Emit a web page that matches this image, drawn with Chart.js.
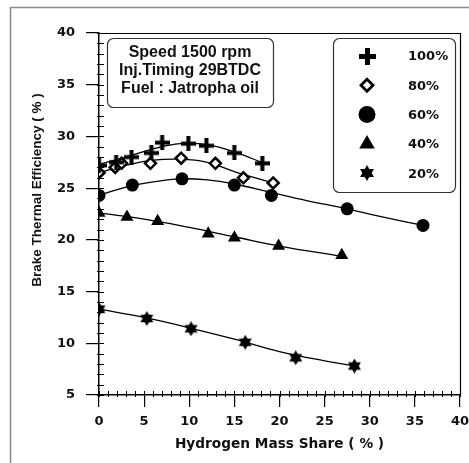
<!DOCTYPE html>
<html>
<head>
<meta charset="utf-8">
<script src="https://cdn.jsdelivr.net/npm/chart.js@4/dist/chart.umd.min.js"></script>
<style>
  body { margin: 0; background: #fff; }
  canvas { display: block; }
</style>
</head>
<body>
<canvas id="myChart" width="469" height="463"></canvas>
<script>
/*////////////////////////////// DATA //////////////////////////////*/
const seriesLabels = ['100%', '80%', '60%', '40%', '20%'];

// measured points (hydrogen share %, brake thermal efficiency %)
const h2_100 = [0, 1.9, 3.6, 5.8, 7.0, 9.9, 11.9, 15.0, 18.1];
const bte_100 = [27.2, 27.5, 28.0, 28.4, 29.4, 29.3, 29.1, 28.4, 27.4];
const h2_80 = [0, 1.8, 2.5, 5.7, 9.1, 12.9, 16.0, 19.3];
const bte_80 = [26.5, 27.0, 27.4, 27.4, 27.9, 27.4, 26.0, 25.5];
const h2_60 = [0, 3.7, 9.2, 15.0, 19.1, 27.5, 35.9];
const bte_60 = [24.3, 25.3, 25.9, 25.3, 24.3, 23.0, 21.4];
const h2_40 = [0, 3.1, 6.5, 12.1, 15.0, 19.9, 26.9];
const bte_40 = [22.6, 22.2, 21.8, 20.6, 20.2, 19.4, 18.5];
const h2_20 = [0, 5.3, 10.2, 16.2, 21.8, 28.3];
const bte_20 = [13.3, 12.4, 11.4, 10.1, 8.6, 7.8];

// fitted curves
const fitX_100 = [0, 3, 6, 9, 12, 15, 18.3];
const fitY_100 = [27.3, 28.0, 28.8, 29.3, 29.2, 28.5, 27.4];
const fitX_80 = [0, 3, 6, 9, 12, 15, 19.3];
const fitY_80 = [26.5, 27.2, 27.7, 27.8, 27.5, 26.6, 25.5];
const fitX_60 = [0, 3, 6, 9, 12, 15, 19, 23, 27.5, 31, 35.9];
const fitY_60 = [24.3, 25.1, 25.6, 25.9, 25.8, 25.4, 24.6, 23.8, 23.0, 22.3, 21.4];
const fitX_40 = [0, 5, 10, 15, 20, 26.9];
const fitY_40 = [22.6, 22.0, 21.2, 20.3, 19.4, 18.4];
const fitX_20 = [0, 5, 10, 15, 20, 25, 28.3];
const fitY_20 = [13.3, 12.5, 11.5, 10.4, 9.2, 8.3, 7.8];

const xMin = 0, xMax = 40, xStep = 5;
const yMin = 5, yMax = 40, yStep = 5;

const xTitle = 'Hydrogen Mass Share ( % )';
const yTitle = 'Brake Thermal Efficiency ( % )';
const noteLines = ['Speed 1500 rpm', 'Inj.Timing 29BTDC', 'Fuel : Jatropha oil'];

/*////////////////////////////// MARKERS //////////////////////////////*/
function plusImage(size, thick) {
    const c = document.createElement('canvas');
    c.width = size; c.height = size;
    const g = c.getContext('2d');
    g.fillStyle = '#000';
    const m = (size - thick) / 2;
    g.fillRect(m, 0, thick, size);
    g.fillRect(0, m, size, thick);
    return c;
}

function starImage(size) {
    const c = document.createElement('canvas');
    c.width = size; c.height = size;
    const g = c.getContext('2d');
    g.fillStyle = '#000';
    const r = size / 2;
    [-90, 90].forEach(start => {
        g.beginPath();
        for (let k = 0; k < 3; k++) {
            const a = (start + k * 120) * Math.PI / 180;
            const px = r + r * Math.cos(a), py = r + r * Math.sin(a);
            if (k === 0) g.moveTo(px, py); else g.lineTo(px, py);
        }
        g.closePath();
        g.fill();
    });
    return c;
}

const plusPt = plusImage(15, 4);
const starPt = starImage(15);
// legend uses slightly bigger symbols
const legendMarks = [plusImage(17, 5), 'rectRot', 'circle', 'triangle', starImage(16)];

const toXY = (xs, ys) => xs.map((x, i) => ({x: x, y: ys[i]}));

function markerSet(label, xs, ys, style, extra) {
    return Object.assign({
        label: label,
        data: toXY(xs, ys),
        showLine: false,
        pointStyle: style,
        pointRadius: 6,
        pointBackgroundColor: '#000',
        pointBorderColor: '#000',
        pointBorderWidth: 0,
        order: 0
    }, extra || {});
}

function fitSet(xs, ys) {
    return {
        label: '',
        data: toXY(xs, ys),
        showLine: true,
        borderColor: '#000',
        borderWidth: 1.3,
        pointRadius: 0,
        tension: 0.4,
        fill: false,
        order: 1
    };
}

/*////////////////////////////// PLUGINS //////////////////////////////*/
function roundBox(ctx, x, y, w, h, r) {
    ctx.beginPath();
    ctx.moveTo(x + r, y);
    ctx.arcTo(x + w, y, x + w, y + h, r);
    ctx.arcTo(x + w, y + h, x, y + h, r);
    ctx.arcTo(x, y + h, x, y, r);
    ctx.arcTo(x, y, x + w, y, r);
    ctx.closePath();
}

function drawMark(ctx, style, x, y) {
    ctx.save();
    ctx.fillStyle = '#000';
    ctx.strokeStyle = '#000';
    if (style instanceof HTMLCanvasElement) {
        ctx.drawImage(style, Math.round(x - style.width / 2), Math.round(y - style.height / 2));
    } else if (style === 'circle') {
        ctx.beginPath(); ctx.arc(x, y, 8.5, 0, Math.PI * 2); ctx.fill();
    } else if (style === 'triangle') {
        const r = 9;
        ctx.beginPath();
        ctx.moveTo(x, y - r);
        ctx.lineTo(x + r * 0.866, y + r / 2);
        ctx.lineTo(x - r * 0.866, y + r / 2);
        ctx.closePath(); ctx.fill();
    } else if (style === 'rectRot') {
        const r = 6;
        ctx.beginPath();
        ctx.moveTo(x, y - r); ctx.lineTo(x + r, y); ctx.lineTo(x, y + r); ctx.lineTo(x - r, y);
        ctx.closePath();
        ctx.fillStyle = '#fff'; ctx.fill();
        ctx.lineWidth = 2.8; ctx.stroke();
    }
    ctx.restore();
}

const decorations = {
    id: 'decorations',
    afterDraw(chart) {
        const ctx = chart.ctx;
        const a = chart.chartArea;
        const xs = chart.scales.x, ys = chart.scales.y;
        ctx.save();

        // outer gray frame (only left & top are in the picture)
        ctx.strokeStyle = '#8a8a8a';
        ctx.lineWidth = 1.5;
        ctx.beginPath();
        ctx.moveTo(10.5, chart.height); ctx.lineTo(10.5, 7.5); ctx.lineTo(chart.width, 7.5);
        ctx.stroke();

        // top & right lines of the plot box
        ctx.strokeStyle = '#000';
        ctx.lineWidth = 1.2;
        ctx.beginPath();
        ctx.moveTo(a.left, a.top + 0.5); ctx.lineTo(a.right + 0.5, a.top + 0.5); ctx.lineTo(a.right + 0.5, a.bottom);
        ctx.stroke();

        // minor ticks, inward
        ctx.lineWidth = 1;
        ctx.beginPath();
        for (let v = xMin; v <= xMax; v++) {
            const px = Math.round(xs.getPixelForValue(v)) + 0.5;
            ctx.moveTo(px, a.bottom + 2); ctx.lineTo(px, a.bottom - 4);
        }
        for (let v = yMin; v <= yMax; v++) {
            const py = Math.round(ys.getPixelForValue(v)) + 0.5;
            ctx.moveTo(a.left - 2, py); ctx.lineTo(a.left + 5, py);
        }
        ctx.stroke();

        // y axis title, sits a bit above the middle in the picture
        ctx.save();
        ctx.translate(37, 190);
        ctx.rotate(-Math.PI / 2);
        ctx.fillStyle = '#111';
        ctx.font = 'bold 13.5px "Liberation Sans", Arial, sans-serif';
        ctx.textAlign = 'center';
        ctx.textBaseline = 'middle';
        ctx.fillText(yTitle, 0, 0);
        ctx.restore();

        // note box
        ctx.lineWidth = 1.2;
        ctx.strokeStyle = '#333';
        roundBox(ctx, 107.5, 38.5, 166, 69, 6);
        ctx.stroke();
        ctx.fillStyle = '#111';
        ctx.font = 'bold 16px "Liberation Sans", Arial, sans-serif';
        ctx.textAlign = 'center';
        ctx.textBaseline = 'middle';
        noteLines.forEach((t, i) => ctx.fillText(t, 190, 53 + i * 18));

        // legend box
        roundBox(ctx, 333.5, 38.5, 122, 154, 6);
        ctx.stroke();
        ctx.font = 'bold 13px "DejaVu Sans", sans-serif';
        ctx.textAlign = 'left';
        seriesLabels.forEach((t, i) => {
            const ry = 56 + i * 29.3;
            drawMark(ctx, legendMarks[i], 367, ry);
            ctx.fillStyle = '#111';
            ctx.fillText(t, 408, ry + 1);
        });
        ctx.restore();
    }
};

/*////////////////////////////// CHART //////////////////////////////*/
const tickFont = {family: '"DejaVu Sans", sans-serif', size: 13, weight: 'bold'};

const ctx = document.getElementById('myChart').getContext('2d');
const myChart = new Chart(ctx, {
    type: 'scatter',
    data: {
        datasets: [
            markerSet(seriesLabels[0], h2_100, bte_100, plusPt),
            markerSet(seriesLabels[1], h2_80, bte_80, 'rectRot', {
                pointRadius: 5.5, pointBackgroundColor: '#fff', pointBorderWidth: 2.5
            }),
            markerSet(seriesLabels[2], h2_60, bte_60, 'circle', {pointRadius: 6.5}),
            markerSet(seriesLabels[3], h2_40, bte_40, 'triangle', {pointRadius: 7.5}),
            markerSet(seriesLabels[4], h2_20, bte_20, starPt),
            fitSet(fitX_100, fitY_100),
            fitSet(fitX_80, fitY_80),
            fitSet(fitX_60, fitY_60),
            fitSet(fitX_40, fitY_40),
            fitSet(fitX_20, fitY_20)
        ]
    },
    options: {
        responsive: false,
        animation: false,
        devicePixelRatio: 1,
        layout: {padding: {left: 29, top: 33, right: 9, bottom: 10}},
        plugins: {
            legend: {display: false},
            tooltip: {enabled: false}
        },
        scales: {
            x: {
                type: 'linear',
                min: xMin, max: xMax,
                // fixed box; the last label may run off the edge like in the picture
                afterFit: s => { s.height = 58; s.paddingLeft = 0; s.paddingRight = 0; },
                ticks: {stepSize: xStep, font: tickFont, color: '#111', padding: 7, maxRotation: 0},
                grid: {drawOnChartArea: false, tickLength: 12, color: '#000', lineWidth: 1.2},
                border: {color: '#000', width: 1.5},
                title: {
                    display: true,
                    text: xTitle,
                    color: '#111',
                    font: {family: '"DejaVu Sans", sans-serif', size: 13.7, weight: 'bold'},
                    padding: 0
                }
            },
            y: {
                type: 'linear',
                min: yMin, max: yMax,
                afterFit: s => { s.width = 70; s.paddingTop = 0; s.paddingBottom = 0; },
                ticks: {stepSize: yStep, font: tickFont, color: '#111', padding: 11},
                grid: {drawOnChartArea: false, tickLength: 13, color: '#000', lineWidth: 1.2},
                border: {color: '#000', width: 1.5},
                title: {display: false}
            }
        }
    },
    plugins: [decorations]
});
</script>
</body>
</html>
